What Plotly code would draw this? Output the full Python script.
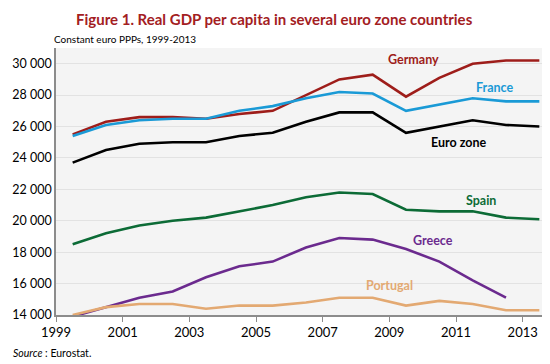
import plotly.graph_objects as go

years = list(range(1999, 2014))
germany = [25500, 26300, 26600, 26600, 26500, 26800, 27000, 28000, 29000, 29300, 27900, 29100, 30000, 30200, 30200]
france = [25400, 26100, 26400, 26500, 26500, 27000, 27300, 27800, 28200, 28100, 27000, 27400, 27800, 27600, 27600]
euro_zone = [23700, 24500, 24900, 25000, 25000, 25400, 25600, 26300, 26900, 26900, 25600, 26000, 26400, 26100, 26000]
spain = [18500, 19200, 19700, 20000, 20200, 20600, 21000, 21500, 21800, 21700, 20700, 20600, 20600, 20200, 20100]
greece = [13900, 14500, 15100, 15500, 16400, 17100, 17400, 18300, 18900, 18800, 18200, 17400, 16200, 15100, None]
portugal = [14000, 14500, 14700, 14700, 14400, 14600, 14600, 14800, 15100, 15100, 14600, 14900, 14700, 14300, 14300]

x_tick_labels = ["1999", "2001", "2003", "2005", "2007", "2009", "2011", "2013"]
y_ticks = [14000, 16000, 18000, 20000, 22000, 24000, 26000, 28000, 30000]
y_tick_labels = ["14 000", "16 000", "18 000", "20 000", "22 000", "24 000", "26 000", "28 000", "30 000"]

series = [
    ("Greece", greece, "#6b2a8e"),
    ("Spain", spain, "#0c6b36"),
    ("Euro zone", euro_zone, "#000000"),
    ("Germany", germany, "#9e1d1a"),
    ("France", france, "#1a9ad6"),
    ("Portugal", portugal, "#e3a972"),
]

# data plotted at the middle of each year interval
x_mid = [y + 0.5 for y in years]

fig = go.Figure()
for name, vals, col in series:
    fig.add_trace(go.Scatter(x=x_mid, y=vals, mode="lines", name=name,
                             line=dict(color=col, width=2.6), connectgaps=False,
                             hoverinfo="skip"))

font_family = "Lato, Open Sans, sans-serif"
labels = [
    ("Germany", 2009.72, 30250, "#9e1d1a"),
    ("France", 2012.14, 28470, "#1a9ad6"),
    ("Euro zone", 2011.09, 24960, "#000000"),
    ("Spain", 2011.75, 21270, "#0c6b36"),
    ("Greece", 2010.31, 18720, "#6b2a8e"),
    ("Portugal", 2008.99, 15860, "#e3a972"),
]
for txt, xx, yy, col in labels:
    fig.add_annotation(x=xx, y=yy, text="<b>" + txt + "</b>", showarrow=False,
                       font=dict(color=col, size=12.5, family=font_family),
                       xanchor="center", yanchor="middle")

# paper coords relative to plot area (x: 48..548 px, y: 40..307 px)
fig.add_annotation(x=(266 - 48) / 500, y=(307 - 11) / 267, xref="paper", yref="paper",
                   yanchor="middle", xanchor="center",
                   text="<b>Figure 1. Real GDP per capita in several euro zone countries</b>",
                   showarrow=False,
                   font=dict(color="#a3201f", size=15, family=font_family))
fig.add_annotation(x=(44 - 48) / 500, y=(307 - 31) / 267, xref="paper", yref="paper",
                   xanchor="left", yanchor="middle",
                   text="Constant euro PPPs, 1999-2013", showarrow=False,
                   font=dict(color="#000000", size=10, family=font_family))
fig.add_annotation(x=(3 - 48) / 500, y=(307 - 345) / 267, xref="paper", yref="paper",
                   xanchor="left", yanchor="middle",
                   text="<i>Source</i> : Eurostat.", showarrow=False,
                   font=dict(color="#000000", size=10.5, family=font_family))

fig.update_layout(
    width=550, height=364,
    margin=dict(l=48, r=2, t=40, b=57),
    paper_bgcolor="white",
    plot_bgcolor="#f4f4f4",
    showlegend=False,
    font=dict(family=font_family, color="#000000", size=12),
    xaxis=dict(range=[1999, 2014], tickvals=[1999 + 2 * i for i in range(8)],
               ticktext=x_tick_labels, showgrid=False, zeroline=False,
               showline=True, linecolor="#8c8c8c", linewidth=1.5,
               ticks="outside", ticklen=5, tickcolor="#8c8c8c",
               tickfont=dict(size=13)),
    yaxis=dict(range=[14000, 31000], tickvals=y_ticks, ticktext=y_tick_labels,
               showgrid=True, gridcolor="#e2e2e2", gridwidth=1, zeroline=False,
               showline=True, linecolor="#8c8c8c", linewidth=1.5,
               ticks="", tickfont=dict(size=12.5)),
)

fig.write_html("out.html")
